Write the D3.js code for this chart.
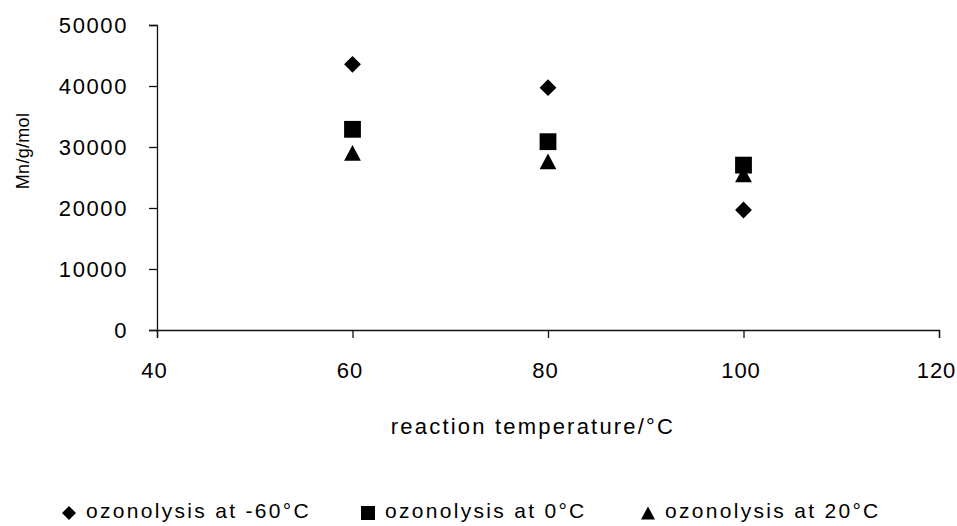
<!DOCTYPE html>
<html>
<head>
<meta charset="utf-8">
<script src="https://cdn.jsdelivr.net/npm/d3@7"></script>
<style>
  body { margin: 0; background: #fff; }
  svg { font-family: "Liberation Sans", Arial, sans-serif; }
  .axis path, .axis line { stroke: #111; stroke-width: 1.3; }
  .axis text { font-size: 22px; fill: #000; }
  .y.axis text { letter-spacing: 1.6px; }
  .x.axis text { letter-spacing: 1px; }
</style>
</head>
<body>
<svg width="957" height="526"></svg>
<script>
// chart data
const temps = [60, 80, 100]
const ozMinus60 = [43560, 39720, 19670]
const oz0 = [32900, 30870, 27030]
const oz20 = [29030, 27650, 25510]
const seriesNames = ['ozonolysis at -60°C', 'ozonolysis at 0°C', 'ozonolysis at 20°C']
const xTicks = [40, 60, 80, 100, 120]
const yTicks = [0, 10000, 20000, 30000, 40000, 50000]

const svg = d3.select('svg')

const x = d3.scaleLinear().domain([40, 120]).range([157, 939])
const y = d3.scaleLinear().domain([0, 50000]).range([330, 25])

// marker shapes, centred on 0,0
function diamond(s) { return `M0,${-s}L${s},0L0,${s}L${-s},0Z` }
function square(s) { return `M${-s},${-s}H${s}V${s}H${-s}Z` }
function triangle(s) { return `M0,${-s * 0.93}L${s},${s * 0.93}L${-s},${s * 0.93}Z` }

const series = [
    { name: seriesNames[0], values: ozMinus60, shape: diamond },
    { name: seriesNames[1], values: oz0, shape: square },
    { name: seriesNames[2], values: oz20, shape: triangle }
]

// axes
const xAxis = svg.append('g')
    .attr('class', 'x axis')
    .attr('transform', 'translate(0,330)')
    .call(d3.axisBottom(x).tickValues(xTicks).tickSize(8).tickPadding(24).tickFormat(d3.format('d')))
xAxis.selectAll('text').attr('dx', -3)

svg.append('g')
    .attr('class', 'y axis')
    .attr('transform', 'translate(157,0)')
    .call(d3.axisLeft(y).tickValues(yTicks).tickSize(8).tickPadding(21).tickFormat(d3.format('d')))

// points
series.forEach(s => {
    svg.append('g')
        .selectAll('path')
        .data(temps.map((t, i) => ({ t: t, v: s.values[i] })))
        .join('path')
        .attr('d', s.shape(8.4))
        .attr('transform', d => `translate(${x(d.t)},${y(d.v)})`)
        .attr('fill', '#000')
})

// titles
svg.append('text')
    .attr('x', 533).attr('y', 434)
    .attr('text-anchor', 'middle')
    .style('font-size', '22px')
    .style('letter-spacing', '2.2px')
    .text('reaction temperature/°C')

svg.append('text')
    .attr('transform', 'translate(29,151) rotate(-90)')
    .attr('text-anchor', 'middle')
    .style('font-size', '18px')
    .style('letter-spacing', '0.3px')
    .text('Mn/g/mol')

// legend
const legendX = [69, 368, 648]
const legend = svg.append('g')
series.forEach((s, i) => {
    const g = legend.append('g').attr('transform', `translate(${legendX[i]},513)`)
    g.append('path').attr('d', s.shape(7)).attr('fill', '#000')
    g.append('text')
        .attr('x', 17).attr('y', 5)
        .style('font-size', '21px')
        .style('letter-spacing', '2.3px')
        .text(s.name)
})
</script>
</body>
</html>
